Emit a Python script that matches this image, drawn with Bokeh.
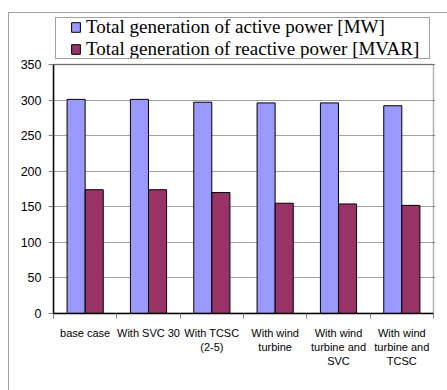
from bokeh.plotting import figure
from bokeh.models import (Range1d, FixedTicker, Legend, LegendItem,
                          ColumnDataSource, BoxAnnotation, InlineStyleSheet)
from bokeh.embed import file_html
from bokeh.resources import INLINE

# Scenarios compared
categories = ["base case", "With SVC 30", "With TCSC\n(2-5)", "With wind\nturbine",
              "With wind\nturbine and\nSVC", "With wind\nturbine and\nTCSC"]
# Total generation per scenario
active_mw = [301, 301, 297, 296, 296, 292]
reactive_mvar = [174, 174, 170, 155, 154, 152]
y_ticks = [0, 50, 100, 150, 200, 250, 300, 350]
y_max = 350

n = len(categories)
centers = [i + 0.5 for i in range(n)]
bar_w = 0.285
off = 0.143

src = ColumnDataSource(dict(
    xa=[c - off for c in centers],
    xr=[c + off for c in centers],
    active=active_mw,
    reactive=reactive_mvar,
))

# page layout (pixels)
W, H = 447, 390
left, right, top, bottom = 53, 433, 64, 313   # plot area
canvas_top = 17                               # drawing region starts above the plot area for the legend
frame_right = right + 2

y_end = y_max * (bottom - canvas_top) / (bottom - top)
x_end = n * (frame_right - left) / (right - left)

p = figure(width=W, height=H, output_backend="svg", toolbar_location=None,
           x_range=Range1d(0, x_end), y_range=Range1d(0, y_end),
           min_border_left=left, min_border_right=W - frame_right,
           min_border_top=canvas_top, min_border_bottom=H - bottom)

p.background_fill_color = "white"
p.border_fill_color = "white"
p.outline_line_color = None

ra = p.vbar(x="xa", top="active", width=bar_w, source=src,
            fill_color="#9999FF", line_color="black", line_width=1)
rr = p.vbar(x="xr", top="reactive", width=bar_w, source=src,
            fill_color="#993366", line_color="black", line_width=1)

# black frame around the plot area
p.add_layout(BoxAnnotation(left=0, right=n, bottom=0, top=y_max,
                           fill_alpha=0, line_color="black", line_width=1.5))

# x axis: labels at category centres, tick marks on category boundaries
p.xaxis.ticker = FixedTicker(ticks=centers, minor_ticks=list(range(n + 1)))
p.xaxis.major_label_overrides = {c: lab for c, lab in zip(centers, categories)}
p.xaxis.bounds = (0, n)
p.xaxis.major_tick_line_color = None
p.xaxis.minor_tick_in = 0
p.xaxis.minor_tick_out = 5
p.xaxis.minor_tick_line_color = "#808080"
p.xaxis.axis_line_color = "black"
p.xaxis.axis_line_width = 1.5
p.xaxis.major_label_text_font = "Liberation Sans"
p.xaxis.major_label_text_font_size = "11px"
p.xaxis.major_label_text_color = "black"
p.xaxis.major_label_standoff = 7
p.xgrid.grid_line_color = None

p.yaxis.ticker = FixedTicker(ticks=y_ticks)
p.yaxis.bounds = (0, y_max)
p.yaxis.minor_tick_line_color = None
p.yaxis.major_tick_in = 0
p.yaxis.major_tick_out = 5
p.yaxis.major_tick_line_color = "#808080"
p.yaxis.axis_line_color = "black"
p.yaxis.axis_line_width = 1.5
p.yaxis.major_label_text_font = "Liberation Sans"
p.yaxis.major_label_text_font_size = "12.5px"
p.yaxis.major_label_text_color = "black"
p.yaxis.major_label_standoff = 7
p.ygrid.grid_line_color = "#a0a0a0"
p.ygrid.grid_line_width = 1
p.ygrid.bounds = (0, n)

legend = Legend(items=[
    LegendItem(label="Total generation of active power [MW]", renderers=[ra]),
    LegendItem(label="Total generation of reactive power [MVAR]", renderers=[rr]),
], location=(17, bottom - 60), padding=0, margin=0, spacing=0,
    label_height=20, glyph_width=11, glyph_height=12, label_standoff=5,
    label_text_font="Liberation Serif", label_text_font_size="19px",
    label_text_color="black", border_line_alpha=0, background_fill_alpha=0)
p.add_layout(legend, "center")

# chart border (top/left edges) and the frame around the legend
p.stylesheets = [InlineStyleSheet(css="""
:host::before {
  content: ""; position: absolute; left: 8px; top: 12px;
  width: 439px; height: 378px; box-sizing: border-box;
  border-left: 1px solid #a0a0a0; border-top: 1px solid #a0a0a0;
  pointer-events: none; z-index: 5;
}
:host::after {
  content: ""; position: absolute; left: 55px; top: 17px;
  width: 375px; height: 42px; box-sizing: border-box;
  border: 1px solid #a0a0a0;
  pointer-events: none; z-index: 5;
}
""")]

open("out.html", "w").write(file_html(p, INLINE))
